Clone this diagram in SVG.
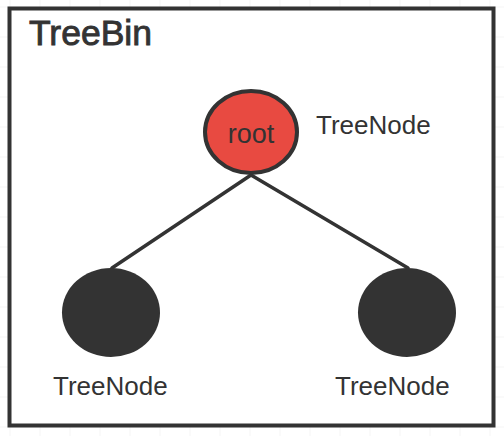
<svg xmlns="http://www.w3.org/2000/svg" width="504" height="436" viewBox="0 0 504 436">
<defs>
<pattern id="grid" x="9.5" y="6.5" width="30" height="30" patternUnits="userSpaceOnUse">
<path d="M0 0H30M0 0V30" fill="none" stroke="#ececec" stroke-width="1"/>
</pattern>
</defs>
<style>
.t{font-family:"Liberation Sans",Arial,sans-serif;fill:#333;}
.lbl{font-size:26px;}
.edge{stroke:#333;stroke-width:3.5;fill:none;stroke-linecap:round;}
</style>
<rect x="0" y="0" width="504" height="436" fill="#fff"/>
<rect x="0" y="0" width="504" height="436" fill="url(#grid)"/>
<g id="treebin">
<rect x="9.5" y="8.5" width="484" height="417" fill="#fff" stroke="#333" stroke-width="4"/>
<text class="t" x="29" y="44.5" font-size="35.5" stroke="#333" stroke-width="0.9">TreeBin</text>
</g>
<g id="connectors">
<line class="edge" x1="251" y1="175" x2="112" y2="268"/>
<line class="edge" x1="251" y1="175" x2="408" y2="268"/>
</g>
<g id="root">
<ellipse cx="251" cy="132" rx="46" ry="41" fill="#e84a41" stroke="#333" stroke-width="4"/>
<text class="t" x="251" y="143" font-size="27" text-anchor="middle">root</text>
<text class="t lbl" x="316" y="134">TreeNode</text>
</g>
<g id="left">
<ellipse cx="111" cy="312.5" rx="49" ry="44.5" fill="#333"/>
<text class="t lbl" x="53" y="395">TreeNode</text>
</g>
<g id="right">
<ellipse cx="407" cy="312.5" rx="49" ry="44.5" fill="#333"/>
<text class="t lbl" x="335" y="395">TreeNode</text>
</g>
</svg>
